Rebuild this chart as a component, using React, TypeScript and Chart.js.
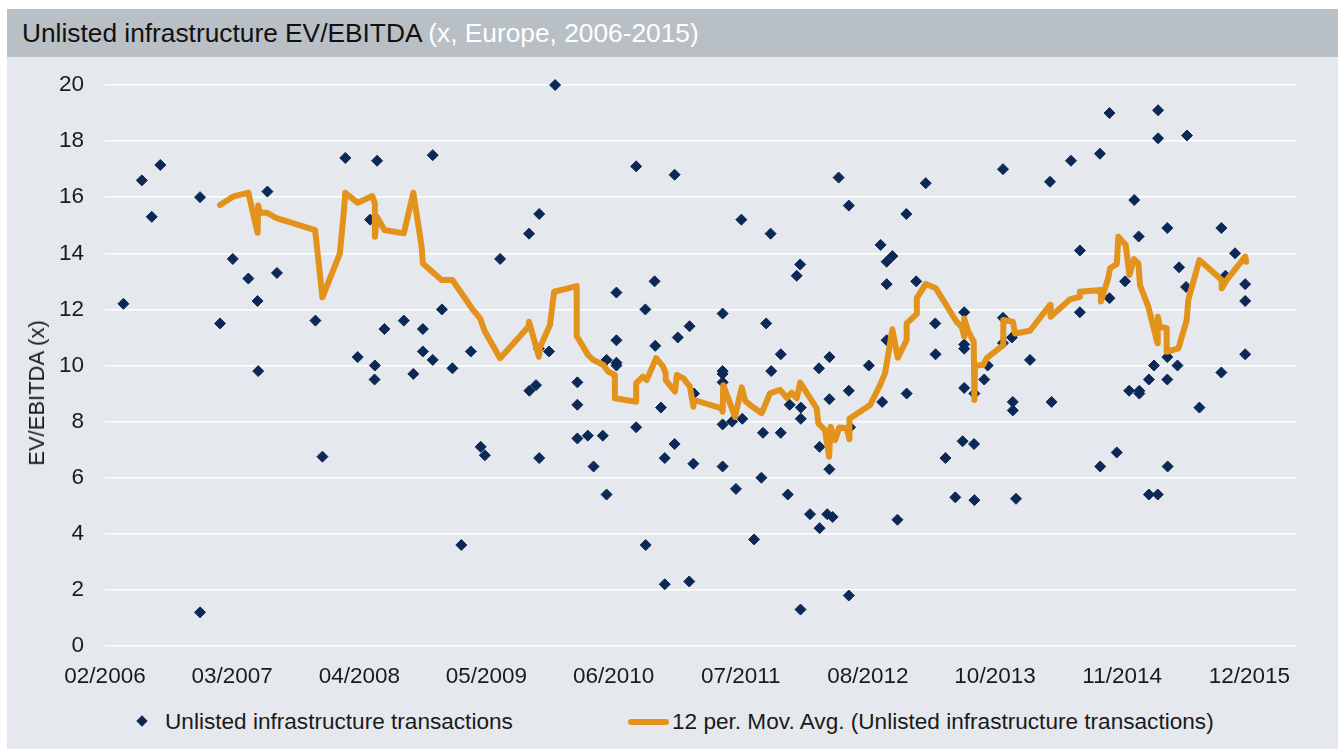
import React, { useEffect, useRef } from 'react';
import { Chart, registerables } from 'chart.js';

Chart.register(...registerables);

// ---------- data (x = days since 1 Feb 2006) ----------
const tickStepDays = 400;
const xAxisMaxDays = 3750;
const xTickLabels = ['02/2006', '03/2007', '04/2008', '05/2009', '06/2010', '07/2011', '08/2012', '10/2013', '11/2014', '12/2015'];

const txDays = [
  58, 116, 147, 174, 299, 299, 362, 402, 451, 480,
  482, 511, 541, 662, 684, 756, 795, 834, 849, 848,
  856, 879, 940, 970, 1000, 1000, 1031, 1031, 1060, 1093,
  1121, 1151, 1182, 1195, 1243, 1334, 1335, 1356, 1366, 1366,
  1365, 1397, 1416, 1486, 1486, 1486, 1519, 1537, 1566, 1578,
  1578, 1609, 1609, 1609, 1609, 1671, 1671, 1700, 1701, 1729,
  1731, 1749, 1761, 1761, 1792, 1792, 1802, 1839, 1838, 1851,
  1853, 1943, 1943, 1943, 1943, 1943, 1943, 1973, 1985, 2002,
  2005, 2042, 2065, 2070, 2080, 2094, 2096, 2126, 2126, 2148,
  2154, 2176, 2187, 2189, 2189, 2188, 2218, 2246, 2248, 2248,
  2272, 2279, 2279, 2279, 2289, 2308, 2340, 2340, 2340, 2344,
  2403, 2440, 2445, 2459, 2477, 2459, 2459, 2493, 2521, 2522,
  2552, 2582, 2612, 2613, 2644, 2675, 2698, 2703, 2703, 2703,
  2703, 2734, 2735, 2735, 2766, 2777, 2825, 2825, 2825, 2853,
  2856, 2856, 2866, 2910, 2973, 2978, 3039, 3067, 3067, 3130,
  3131, 3160, 3160, 3183, 3209, 3222, 3238, 3252, 3254, 3254,
  3284, 3284, 3300, 3312, 3313, 3313, 3342, 3342, 3342, 3343,
  3374, 3379, 3401, 3404, 3443, 3512, 3512, 3525, 3555, 3587,
  3587, 3587,
];

const txValues = [
  12.2, 16.6, 15.3, 17.15, 16.0, 1.2, 11.5, 13.8, 13.1, 12.3,
  9.8, 16.2, 13.3, 11.6, 6.75, 17.4, 10.3, 15.2, 10.0, 9.5,
  17.3, 11.3, 11.6, 9.7, 11.3, 10.5, 17.5, 10.2, 12.0, 9.9,
  3.6, 10.5, 7.1, 6.8, 13.8, 14.7, 9.1, 9.3, 15.4, 6.7,
  10.6, 10.5, 20.0, 9.4, 8.6, 7.4, 7.5, 6.4, 7.5, 10.2,
  5.4, 12.6, 10.9, 10.1, 10.0, 17.1, 7.8, 12.0, 3.6, 13.0,
  10.7, 8.5, 6.7, 2.2, 16.8, 7.2, 11.0, 11.4, 2.3, 6.5,
  9.0, 11.85, 9.8, 9.7, 9.4, 7.9, 6.4, 8.0, 5.6, 15.2,
  8.1, 3.8, 6.0, 7.6, 11.5, 14.7, 9.8, 10.4, 7.6, 5.4,
  8.6, 13.2, 13.6, 8.5, 8.1, 1.3, 4.7, 9.9, 7.1, 4.2,
  4.7, 10.3, 8.8, 6.3, 4.6, 16.7, 15.7, 9.1, 1.8, 7.8,
  10.0, 14.3, 8.7, 13.7, 13.9, 12.9, 10.9, 4.5, 15.4, 9.0,
  13.0, 16.5, 11.5, 10.4, 6.7, 5.3, 7.3, 11.9, 10.75, 10.6,
  9.2, 7.2, 5.2, 9.0, 9.5, 10.0, 17.0, 11.7, 10.8, 11.0,
  8.7, 8.4, 5.25, 10.2, 16.55, 8.7, 17.3, 14.1, 11.9, 17.55,
  6.4, 19.0, 12.4, 6.9, 13.0, 9.1, 15.9, 14.6, 9.1, 9.0,
  9.5, 5.4, 10.0, 5.4, 19.1, 18.1, 14.9, 10.3, 9.5, 6.4,
  10.0, 13.5, 12.8, 18.2, 8.5, 14.9, 9.75, 13.2, 14.0, 12.9,
  12.3, 10.4,
];

const maDays = [
  362, 402, 451, 480, 482, 488, 509, 540, 661, 684,
  739, 750, 756, 795, 841, 849, 849, 855, 879, 940,
  970, 996, 1000, 1059, 1093, 1154, 1180, 1195, 1243, 1332,
  1334, 1365, 1369, 1400, 1413, 1484, 1484, 1520, 1536, 1568,
  1583, 1604, 1604, 1671, 1671, 1692, 1704, 1734, 1756, 1764,
  1764, 1793, 1799, 1820, 1840, 1851, 1853, 1940, 1943, 1945,
  1982, 2003, 2014, 2040, 2066, 2092, 2124, 2145, 2160, 2176,
  2187, 2239, 2244, 2265, 2278, 2283, 2297, 2310, 2333, 2342,
  2342, 2407, 2438, 2454, 2461, 2477, 2494, 2522, 2522, 2554,
  2554, 2582, 2614, 2679, 2695, 2703, 2703, 2716, 2733, 2735,
  2737, 2763, 2774, 2826, 2826, 2856, 2863, 2910, 2973, 2975,
  3036, 3067, 3067, 3133, 3133, 3156, 3162, 3183, 3188, 3211,
  3223, 3237, 3251, 3256, 3282, 3298, 3311, 3312, 3319, 3340,
  3340, 3377, 3403, 3408, 3443, 3513, 3513, 3529, 3587, 3590,
];

const maValues = [
  15.72, 16.02, 16.16, 14.73, 15.7, 15.45, 15.45, 15.25, 14.83, 12.43,
  14.0, 15.3, 16.16, 15.8, 16.04, 15.78, 14.59, 15.31, 14.83, 14.71,
  16.16, 14.24, 13.64, 13.05, 13.05, 12.04, 11.68, 11.21, 10.26, 11.38,
  11.56, 10.31, 10.67, 11.44, 12.63, 12.83, 11.05, 10.37, 10.2, 10.02,
  9.78, 9.66, 8.83, 8.71, 9.37, 9.6, 9.48, 10.26, 9.96, 9.72,
  9.48, 9.07, 9.66, 9.54, 9.25, 8.53, 8.77, 8.47, 8.35, 9.3,
  8.17, 9.22, 8.74, 8.5, 8.3, 9.01, 9.13, 8.85, 9.03, 8.83,
  9.39, 8.47, 7.94, 7.7, 6.75, 7.82, 7.34, 7.79, 7.76, 7.37,
  8.1, 8.59, 9.3, 9.72, 10.2, 11.29, 10.28, 10.91, 11.5, 11.84,
  12.4, 12.91, 12.75, 11.56, 11.38, 11.03, 11.68, 11.21, 10.85, 8.77,
  10.0, 10.02, 10.26, 10.73, 11.62, 11.56, 11.14, 11.24, 12.16, 11.74,
  12.36, 12.45, 12.63, 12.69, 12.28, 13.11, 13.47, 13.62, 14.59, 14.3,
  13.23, 13.79, 13.64, 12.87, 12.1, 11.38, 10.79, 11.74, 11.38, 11.33,
  10.49, 10.61, 11.62, 12.34, 13.76, 13.05, 12.75, 13.05, 13.88, 13.7,
];

// ---------- styles ----------
const FONT = '"Liberation Sans", Arial, Helvetica, sans-serif';
const NAVY = '#0b2857';
const ORANGE = '#e3931c';
const TEXT = '#1a1a1a';
const PANEL = '#e5e8ed';
const TITLE_BG = '#b8bfc5';

export default function App() {
  const canvasRef = useRef<HTMLCanvasElement>(null);

  useEffect(() => {
    if (!canvasRef.current) return;
    const chart = new Chart(canvasRef.current, {
      type: 'scatter',
      data: {
        datasets: [
          {
            label: '12 per. Mov. Avg. (Unlisted infrastructure transactions)',
            data: maDays.map((d, i) => ({ x: d, y: maValues[i] })),
            showLine: true,
            borderColor: ORANGE,
            backgroundColor: ORANGE,
            borderWidth: 6,
            pointRadius: 0,
            pointHoverRadius: 0,
            tension: 0,
            borderJoinStyle: 'round',
            borderCapStyle: 'round',
            clip: false,
            order: 0,
          },
          {
            label: 'Unlisted infrastructure transactions',
            data: txDays.map((d, i) => ({ x: d, y: txValues[i] })),
            pointStyle: 'rectRot',
            pointRadius: 5.5,
            pointHoverRadius: 5.5,
            backgroundColor: NAVY,
            borderColor: NAVY,
            borderWidth: 1,
            clip: false,
            order: 1,
          },
        ],
      } as any,
      options: {
        animation: false,
        responsive: false,
        maintainAspectRatio: false,
        layout: { padding: { top: 28, right: 41, left: 0, bottom: 0 } },
        plugins: {
          legend: { display: false },
          tooltip: { enabled: false },
          title: { display: false },
        },
        scales: {
          x: {
            type: 'linear',
            min: 0,
            max: xAxisMaxDays,
            afterBuildTicks: (scale: any) => {
              scale.ticks = xTickLabels.map((_, i) => ({ value: i * tickStepDays }));
            },
            afterFit: (scale: any) => {
              scale.height = 54;
            },
            ticks: {
              autoSkip: false,
              maxRotation: 0,
              minRotation: 0,
              padding: 17,
              color: TEXT,
              font: { family: FONT, size: 22.5 },
              callback: (_v: any, index: number) => xTickLabels[index] ?? '',
            },
            grid: { display: false, drawTicks: false },
            border: { display: false },
          },
          y: {
            min: 0,
            max: 20,
            afterFit: (scale: any) => {
              scale.width = 98;
              scale.paddingTop = 0;
              scale.paddingBottom = 0;
            },
            ticks: {
              stepSize: 2,
              padding: 21,
              color: TEXT,
              font: { family: FONT, size: 22.5 },
            },
            grid: { color: '#ffffff', lineWidth: 1.5, drawTicks: false },
            border: { display: false },
          },
        },
      } as any,
    });
    return () => chart.destroy();
  }, []);

  return (
    <div style={{ position: 'absolute', left: 0, top: 0, width: 1338, height: 749, background: '#ffffff', overflow: 'hidden', fontFamily: FONT }}>
      <div
        style={{
          position: 'absolute', left: 7, top: 9, width: 1331, height: 48, background: TITLE_BG,
          fontSize: 26.3, lineHeight: '48px', paddingLeft: 15, boxSizing: 'border-box', whiteSpace: 'nowrap',
        }}
      >
        <span style={{ color: '#111111' }}>Unlisted infrastructure EV/EBITDA</span>
        <span style={{ color: '#ffffff' }}> (x, Europe, 2006-2015)</span>
      </div>
      <div style={{ position: 'absolute', left: 7, top: 57, width: 1331, height: 692, background: PANEL }} />
      <canvas
        ref={canvasRef}
        width={1331}
        height={643}
        style={{ position: 'absolute', left: 7, top: 57, width: 1331, height: 643, display: 'block' }}
      />
      <div
        style={{
          position: 'absolute', left: 37, top: 393, transform: 'translate(-50%, -50%) rotate(-90deg)',
          fontSize: 22, color: TEXT, whiteSpace: 'nowrap', lineHeight: '26px',
        }}
      >
        EV/EBITDA (x)
      </div>
      <div style={{ position: 'absolute', left: 138, top: 717, width: 8, height: 8, background: NAVY, transform: 'rotate(45deg)' }} />
      <div style={{ position: 'absolute', left: 165, top: 709, fontSize: 22.6, lineHeight: '26px', color: TEXT, whiteSpace: 'nowrap' }}>
        Unlisted infrastructure transactions
      </div>
      <div style={{ position: 'absolute', left: 628, top: 719, width: 41, height: 6, background: ORANGE, borderRadius: 3 }} />
      <div style={{ position: 'absolute', left: 672, top: 709, fontSize: 22.6, lineHeight: '26px', color: TEXT, whiteSpace: 'nowrap' }}>
        12 per. Mov. Avg. (Unlisted infrastructure transactions)
      </div>
    </div>
  );
}
